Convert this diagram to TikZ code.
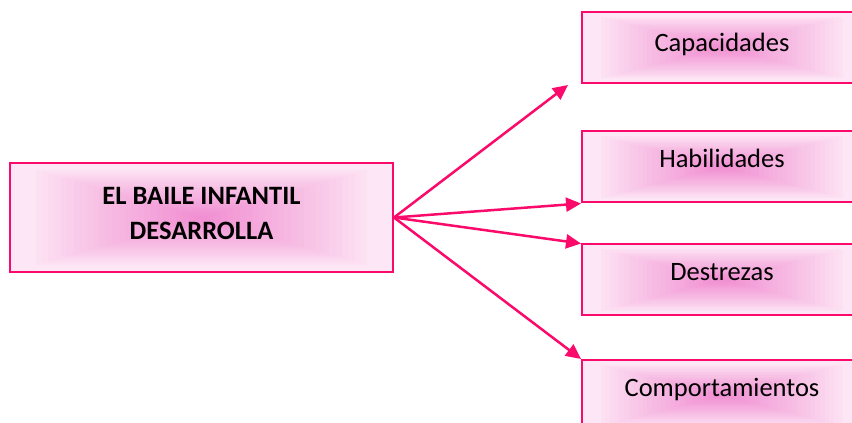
\documentclass[tikz,border=0pt]{standalone}
\usepackage{fontspec}
\setmainfont{Carlito}
\usetikzlibrary{arrows.meta,calc}
\definecolor{pkline}{HTML}{FA0A6A}
\definecolor{pkC}{HTML}{F08CD0}
\definecolor{pkE}{HTML}{FDE6F5}
\tikzset{
  gradbox/.style={draw=pkline, line width=2pt, fill=pkE, rectangle, inner sep=0pt,
    path picture={
      \foreach \k in {3,...,29}{
        \pgfmathsetmacro\f{\k/30}
        \pgfmathsetmacro\c{100*((\k-3)/27)^0.9}
        \fill[pkC!\c!pkE]
          ($(path picture bounding box.south west)!{\f/2}!(path picture bounding box.north east)$)
          rectangle
          ($(path picture bounding box.north east)!{\f/2}!(path picture bounding box.south west)$);
      }
    }},
  sidebox/.style={gradbox, minimum width=280pt, minimum height=71pt,
    font=\fontsize{26.5pt}{30pt}\selectfont, text height=18pt, text depth=16pt},
  conn/.style={draw=pkline, line width=2.5pt, -{Triangle[length=15pt,width=14pt]}}
}
\begin{document}
\begin{tikzpicture}[x=1pt,y=1pt]
\useasboundingbox (0,0) rectangle (852,423);
\node[gradbox, minimum width=383pt, minimum height=109pt, align=center,
  font=\fontsize{26.5pt}{35pt}\selectfont\bfseries, text depth=9pt]
  (main) at (201.5,205.5) {EL BAILE INFANTIL\\DESARROLLA};
\node[sidebox, text depth=9pt] (cap) at (722,375.5) {Capacidades};
\node[sidebox] (hab) at (722,256) {Habilidades};
\node[sidebox] (des) at (722,143) {Destrezas};
\node[sidebox] (com) at (722,27.5) {Comportamientos};
\coordinate (capend) at ($(cap.south west)+(-13,-1)$);
\draw[conn] (main.east) -- (capend);
\draw[conn] (main.east) -- (hab.south west);
\draw[conn] (main.east) -- (des.north west);
\draw[conn] (main.east) -- (com.north west);
\end{tikzpicture}
\end{document}
